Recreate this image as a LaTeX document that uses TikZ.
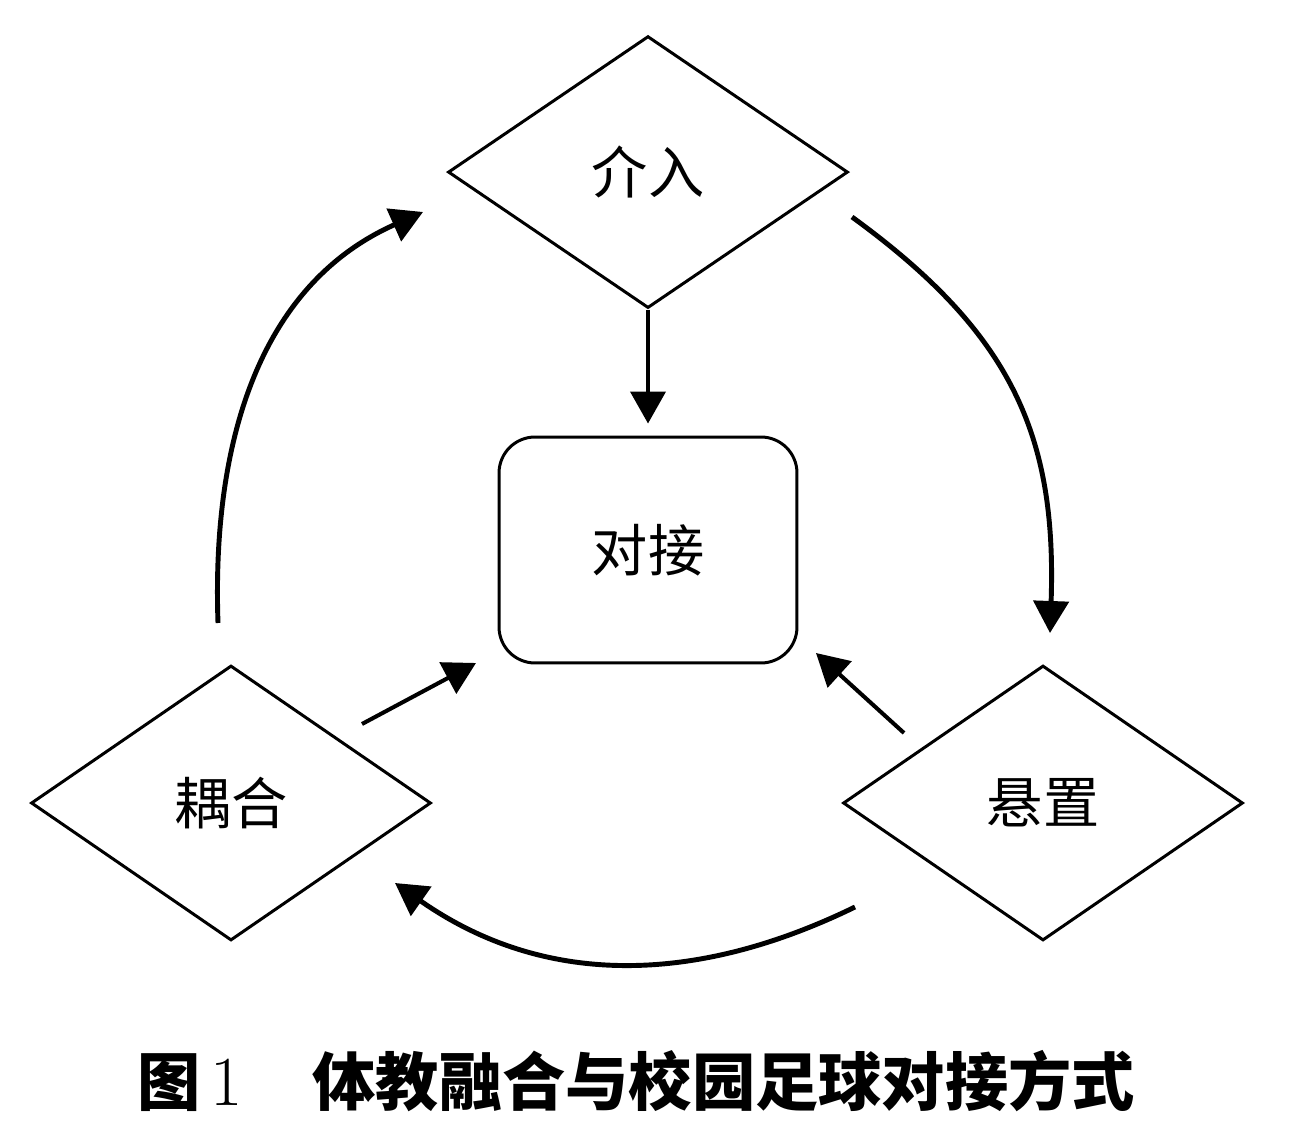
\documentclass[tikz,border=0pt]{standalone}
\usepackage{fontspec}
\newfontfamily\cjk{Noto Sans CJK SC}
\usetikzlibrary{shapes.geometric,arrows.meta,positioning}

\begin{document}
\begin{tikzpicture}[x=0.02cm, y=0.02cm,
    dia/.style={draw, diamond, line width=1.7pt, minimum width=8cm,
      minimum height=5.5cm, inner sep=0pt,
      font=\cjk\fontsize{32}{36}\selectfont},
    box/.style={draw, rectangle, rounded corners=0.72cm, line width=1.7pt,
      minimum width=5.96cm, minimum height=4.52cm,
      font=\cjk\fontsize{32}{36}\selectfont},
    arr/.style={-{Triangle[length=0.64cm,width=0.7cm]}, line width=2.3pt},
    curvearr/.style={-{Triangle[length=0.64cm,width=0.7cm]}, line width=2.8pt}]
        \useasboundingbox (0,0) rectangle (1290,1140);

        \node[box] (B) at (648,590) {对接};
        \node[dia, minimum height=5.44cm, above=2.52cm of B] (A) {介入};
        \node[dia] (D) at (231,337) {耦合};
        \node[dia] (C) at (1043,337) {悬置};

        % ends of the free arrows
        \coordinate (d1) at (362,416);
        \coordinate (d2) at (476,477);
        \coordinate (c1) at (904,407);
        \coordinate (c2) at (816,487);
        \coordinate (l1) at (218,517);
        \coordinate (l2) at (423,928);
        \coordinate (r1) at (852,923);
        \coordinate (r2) at (1050,507);
        \coordinate (b1) at (855,233);
        \coordinate (b2) at (395,257);

        \draw[arr, shorten >=0.24cm] (A.south) -- (B.north);
        \draw[arr] (d1) -- (d2);
        \draw[arr] (c1) -- (c2);

        \draw[curvearr] (l1) to[out=92, in=204] (l2);
        \draw[curvearr] (r1) to[out=-36, in=88, looseness=1.1] (r2);
        \draw[curvearr] (b1) to[out=206, in=-35] (b2);

        \node[font=\fontsize{36}{40}\selectfont] (cap) at (636,59)
        {{\cjk\bfseries 图}\,{\fontsize{40}{40}\selectfont 1}\hspace{1.1em}{\cjk\bfseries 体教融合与校园足球对接方式}};
\end{tikzpicture}
\end{document}
